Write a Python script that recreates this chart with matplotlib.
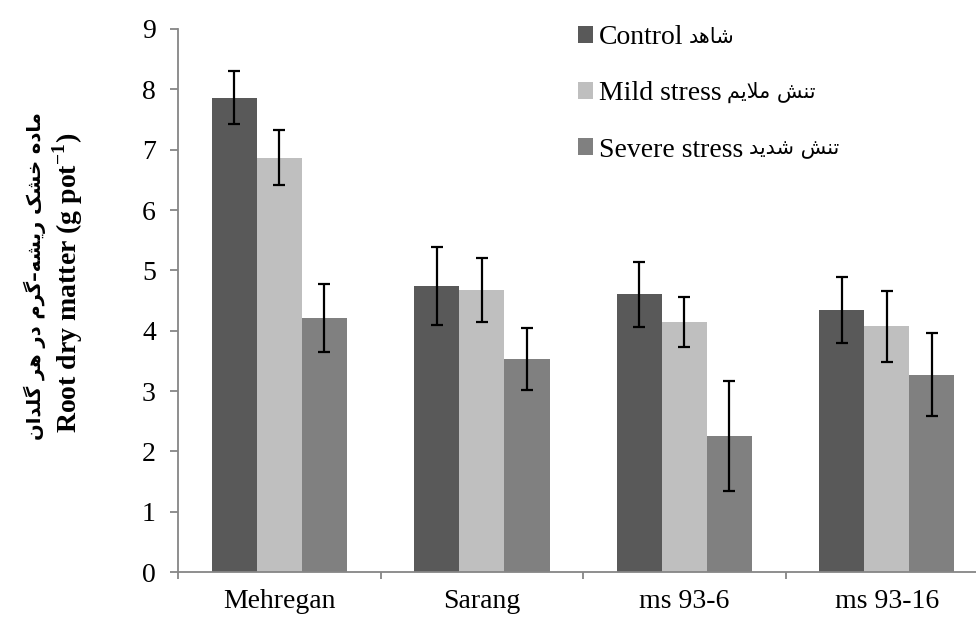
import matplotlib
matplotlib.use('Agg')
import matplotlib.pyplot as plt
import numpy as np

# داده‌ها - Root dry matter
cultivars = ['Mehregan', 'Sarang', 'ms 93-6', 'ms 93-16']
control = [7.86, 4.74, 4.60, 4.34]
control_err = [0.44, 0.64, 0.54, 0.55]
mild = [6.87, 4.67, 4.14, 4.07]
mild_err = [0.45, 0.53, 0.41, 0.59]
severe = [4.21, 3.53, 2.25, 3.27]
severe_err = [0.56, 0.51, 0.91, 0.69]

# Persian text written in presentation forms, visual (left-to-right) order
legend_en = ['Control', 'Mild stress', 'Severe stress']
legend_fa = ['\ufeaa\ufeeb\ufe8e\ufeb7',
             '\ufee2\ufef3\ufefc\ufee3 \ufeb6\ufee8\ufe97',
             '\ufeaa\ufef3\ufeaa\ufeb7 \ufeb6\ufee8\ufe97']
ylabel_fa = ('\ufee5\ufe8d\ufeaa\ufee0\ufb94 \ufeae\ufeeb \ufead\ufea9 '
             '\ufee1\ufeae\ufb94\u2013\ufeea\ufeb8\ufef3\ufead '
             '\ufb8f\ufeb8\ufea7 \ufee9\ufea9\ufe8e\ufee3')
ylabel_en = r'Root dry matter (g pot$^{\mathbf{-1}}$)'

plt.rcParams['font.family'] = ['Liberation Serif', 'DejaVu Sans']
plt.rcParams['mathtext.fontset'] = 'custom'
plt.rcParams['mathtext.rm'] = 'Liberation Serif'
plt.rcParams['mathtext.bf'] = 'Liberation Serif:bold'

fig = plt.figure(figsize=(9.76, 6.17), dpi=100)
ax = fig.add_axes([0.1824, 0.0729, 0.8299, 0.8801])

x = np.arange(len(cultivars))
w = 0.223
ekw = dict(ecolor='black', elinewidth=1.6, capsize=4.5, capthick=1.6)
ax.bar(x - w, control, w, color='#595959', yerr=control_err, error_kw=ekw, label=legend_en[0])
ax.bar(x, mild, w, color='#bfbfbf', yerr=mild_err, error_kw=ekw, label=legend_en[1])
ax.bar(x + w, severe, w, color='#808080', yerr=severe_err, error_kw=ekw, label=legend_en[2])

ax.set_xlim(-0.5, 3.5)
ax.set_ylim(0, 9)
ax.set_yticks(range(10))
ax.set_xticks(x)
ax.set_xticklabels(cultivars)
ax.set_xticks(np.arange(-0.5, 4, 1), minor=True)

for s in ['top', 'right']:
    ax.spines[s].set_visible(False)
for s in ['left', 'bottom']:
    ax.spines[s].set_color('#868686')
    ax.spines[s].set_linewidth(1.3)

ax.tick_params(axis='y', length=6, width=1.3, color='#868686', labelsize=20, pad=10)
ax.tick_params(axis='x', which='major', length=0, labelsize=20, pad=12.5)
ax.tick_params(axis='x', which='minor', length=5, width=1.3, color='#868686')

fig.text(0.036, 0.553, ylabel_fa, rotation=90, ha='center', va='center',
         fontsize=14, fontweight='bold', family=['DejaVu Sans'])
fig.text(0.069, 0.541, ylabel_en, rotation=90, ha='center', va='center',
         fontsize=20, fontweight='bold')

leg = ax.legend(loc='upper left', bbox_to_anchor=(0.592, 0.959), bbox_transform=fig.transFigure,
                frameon=False, fontsize=20, handlelength=0.55, handleheight=0.55,
                handletextpad=0.2, labelspacing=1.12, borderpad=0, borderaxespad=0)

# Persian part of each legend entry, drawn right after the English text
fig.canvas.draw()
r = fig.canvas.get_renderer()
for t, fa in zip(leg.get_texts(), legend_fa):
    bb = t.get_window_extent(r).transformed(fig.transFigure.inverted())
    fig.text(bb.x1 + 0.006, (bb.y0 + bb.y1) / 2 + 0.002, fa, ha='left', va='center',
             fontsize=15, family=['DejaVu Sans'])

fig.savefig('out.png', dpi=100)
